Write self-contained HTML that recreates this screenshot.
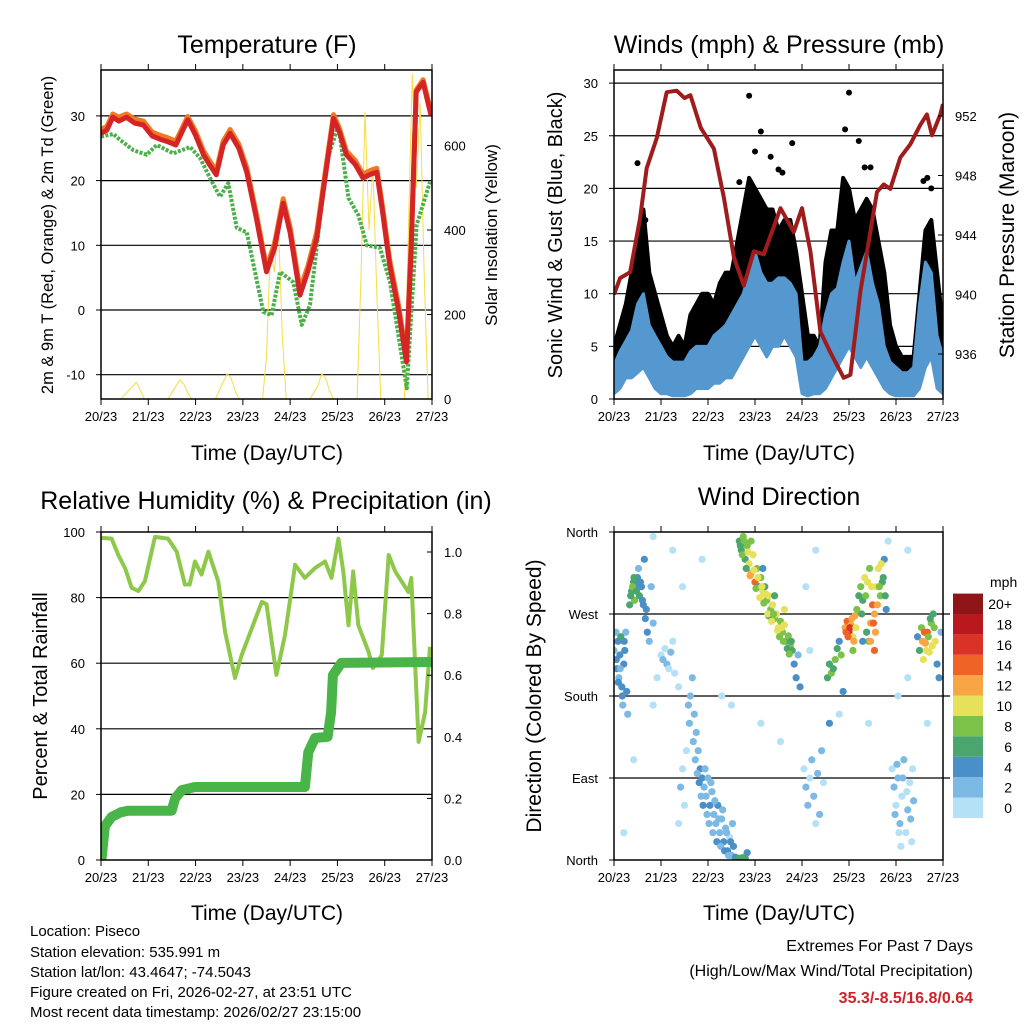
<!DOCTYPE html>
<html><head><meta charset="utf-8"><style>
body{margin:0;background:#fff}
svg{display:block;font-family:"Liberation Sans",Arial,sans-serif}
</style></head><body>
<svg id="c" width="1024" height="1024" viewBox="0 0 1024 1024" xmlns="http://www.w3.org/2000/svg">
<defs>
<clipPath id="cp1"><rect x="101" y="70" width="331" height="329"/></clipPath>
<clipPath id="cp2"><rect x="614" y="70" width="329" height="329"/></clipPath>
<clipPath id="cp3"><rect x="101" y="532" width="331" height="328"/></clipPath>
<clipPath id="cp4"><rect x="614" y="532" width="329" height="328"/></clipPath>
</defs>
<g font-size="25" text-anchor="middle" fill="#000">
<text x="267" y="53">Temperature (F)</text>
<text x="779" y="53">Winds (mph) &amp; Pressure (mb)</text>
<text x="266" y="509">Relative Humidity (%) &amp; Precipitation (in)</text>
<text x="779" y="505">Wind Direction</text>
</g>
<g font-size="21" text-anchor="middle">
<text x="267" y="460">Time (Day/UTC)</text>
<text x="779" y="460">Time (Day/UTC)</text>
<text x="267" y="920">Time (Day/UTC)</text>
<text x="779" y="920">Time (Day/UTC)</text>
<text transform="translate(53,235) rotate(-90)" font-size="16.5">2m &amp; 9m T (Red, Orange) &amp; 2m Td (Green)</text>
<text transform="translate(497,235) rotate(-90)" font-size="17">Solar Insolation (Yellow)</text>
<text transform="translate(562,235) rotate(-90)" font-size="20">Sonic Wind &amp; Gust (Blue, Black)</text>
<text transform="translate(1014,235) rotate(-90)" font-size="21">Station Pressure (Maroon)</text>
<text transform="translate(47,696) rotate(-90)" font-size="20">Percent &amp; Total Rainfall</text>
<text transform="translate(541,696) rotate(-90)" font-size="21">Direction (Colored By Speed)</text>
</g>
<g font-size="15">
<text x="30" y="936">Location: Piseco</text>
<text x="30" y="957">Station elevation: 535.991 m</text>
<text x="30" y="977">Station lat/lon: 43.4647; -74.5043</text>
<text x="30" y="997">Figure created on Fri, 2026-02-27, at 23:51 UTC</text>
<text x="30" y="1017">Most recent data timestamp: 2026/02/27 23:15:00</text>
</g>
<g font-size="16" text-anchor="end">
<text x="973" y="951">Extremes For Past 7 Days</text>
<text x="973" y="976">(High/Low/Max Wind/Total Precipitation)</text>
<text x="973" y="1003" fill="#d0222a" font-weight="bold">35.3/-8.5/16.8/0.64</text>
</g>
<g id="layer"></g>
</svg>
<script>
// ---- Temperature data ----
const tHours=[0,3,6,9,13,17,21.5,26,30,34,38,44,48,52,55,58.5,62,65.5,70,74,79,84,88,92.5,96,101,105,109.5,114,118,121,124.5,129,133,137,140,143,146.5,151,155,157.5,160,163.5,167.5];
const temp2m=[27.3,27.8,29.8,29.2,29.8,28.9,28.6,26.9,26.4,26.0,25.5,29.4,27.0,24,22.5,20.9,25.5,27.3,25.0,21.3,14.0,5.9,9.5,16.5,12.0,2.3,6.0,11.1,21.0,29.6,27.5,24,22.5,20.4,21.0,21.3,15.0,7,0,-8,10,33.7,35.2,30.1];
const temp9m=[27.9,28.4,30.3,29.8,30.3,29.5,29.2,27.5,27.0,26.6,26.1,29.9,27.6,24.6,23.1,21.5,26.1,27.9,25.6,22.0,14.7,6.6,10.2,17.2,12.8,3.2,6.8,12.0,21.7,30.2,28.1,24.6,23.1,21.0,21.6,21.9,15.8,7.8,0.8,-7.2,11,34.0,35.6,30.6];
const dHours=[0,6.3,9.6,16.4,23.2,28.3,36.7,45.2,50.3,55.3,60.4,64.6,68.9,74,82.4,86.6,90.9,97.6,101.9,106.1,114.5,120.5,125.6,130.6,134.9,141.6,146.7,155.2,160.2,167];
const dewpt=[26.8,27.2,26.3,24.7,24,25.5,24.2,25.2,23.5,20.4,17.5,19.6,12.7,12,-0.3,-0.8,5.9,4.3,-2.3,0.8,22.9,28.6,17.3,14.7,10,9.6,4.3,-12.1,13.1,19.8];
const solarHours=[0,2,4,6,8,10,12,14,16,18,20,22,24,26,28,30,32,34,36,38,40,42,44,46,48,50,52,54,56,58,60,62,64,66,68,70,72,74,76,78,80,82,84,86,88,90,92,94,96,98,100,102,104,106,108,110,112,114,116,118,120,122,124,126,128,130,132,134,136,138,140,142,144,146,148,150,152,154,156,158,160,162,164,166,168];
const solar=[0,0,0,0,0,0,10,20,30,40,20,0, 0,0,0,0,0,0,15,30,45,35,15,0, 0,0,0,0,0,0,20,40,60,50,20,0, 0,0,0,0,0,0,100,360,300,420,150,0, 0,0,0,0,0,0,15,30,60,50,20,0, 0,0,0,0,0,0,300,680,400,550,250,0, 0,0,0,0,0,0,400,770,500,700,300,0, 0];
const tempTicks=[30,20,10,0,-10];
const solarTicks=[0,200,400,600];
const dayLabels=["20/23","21/23","22/23","23/23","24/23","25/23","26/23","27/23"];
// ---- Winds ----
const wHours=[0,3,6,9,12,15,18,21,24,27,30,33,36,39,42,45,48,51,54,57,60,63,66,69,72,75,78,81,84,87,90,93,96,99,102,105,108,111,114,117,120,123,126,129,132,135,138,141,144,147,150,153,156,159,162,165,168];
const gustHi=[5,7,9,12,14,18,12,10,8,6,5,6,5,8,9,10,10,9,11,12,12,15,18,21,20,19,18,18,16,17,17,14,10,6,6,5,13,16,16,21,20,17,18,19,18,15,12,7,5,4,4,4,10,16,17,12,7];
const windHi=[3.2,4.5,5.5,6.5,9,10,7,6,5,4,3.5,3.5,3.5,4.5,5,5,5,6,6.5,7,8,9,10,12,14,12,11,11,11.5,11.5,11,10,3.5,3.5,4,5,8,10,10.5,13,15,11,12.5,14,11,9,5,3.5,3,2.5,2.5,3,9,13,12,6,4];
const windLo=[0.5,1,2,2,2.5,3,2,1,0.5,0.5,0.3,0.3,0.3,0.5,1,1,1,1.5,1.5,2,2,3,4,5,6,5,4,5,5,6,5,4,0.5,0.3,0.5,0.5,1,2,3,4,5,4,3,4,3,2,1,0.5,0.3,0.3,0.3,0.3,1,3,4,1,0.5];
const gustOutHours=[69,120,75,91,118,12,64,158,131,86,16,14,72,80,84,125,128,160,162];
const gustOutVals=[28.8,29.1,25.4,24.3,25.6,22.4,20.6,20.7,22,21.5,17,16,23.5,23,21.8,24.5,22,21,20];
const pHours=[0,3.1,8.2,13.3,16.7,21.8,26.9,32,36,39,44.3,51,56.1,61.2,66.3,71.4,76.5,85,91.8,96,100.3,105.4,110.5,117.3,120.7,125.8,134.3,137.7,141.1,146.2,151.3,156.4,159.8,162.4,166.6,168];
const pressure=[940.0,941.1,941.5,945.1,948.5,950.5,953.6,953.7,953.2,953.4,951.2,949.8,946.5,942.5,940.6,942.9,942.7,945.8,944.2,945.8,942.9,937.5,936.1,934.4,934.6,940.2,946.9,947.4,947.1,949.2,950.1,951.4,952.1,950.7,952.1,952.8];
const windTicks=[0,5,10,15,20,25,30];
const presTicks=[936,940,944,948,952];
// ---- RH / Precip ----
const rhHours=[0.3,5.4,8.8,12.2,15.6,19,22.3,24.9,27.4,34,38.4,42.6,45,47.7,51,54.5,59.5,63,68,71.4,76.6,81.6,84,89,93.4,98.5,103.5,108.6,113.7,117,120.5,123,125.6,128,130.6,135.8,138,142.5,146,149.3,156,157.5,161.2,164.5,167];
const rh=[98.2,98,93,89,83,82,85,92,98.5,98,94,84,84,91,87,94,85,69.5,55.5,62.5,70.7,78.7,78,56.4,68.6,90,86,89,91,86,98,88,71.6,88,71.6,63.4,58.5,62.5,93,88,81.7,86,36,45,65];
const prHours=[0.3,2,5.4,10,13.9,35.9,37.6,41,47.7,103.5,105.2,108.6,115,116.8,117.7,122,168];
const precip=[0.006,0.11,0.14,0.155,0.16,0.16,0.2,0.227,0.237,0.237,0.35,0.396,0.40,0.48,0.60,0.64,0.643];
const rhTicks=[0,20,40,60,80,100];
const prTicks=[0.0,0.2,0.4,0.6,0.8,1.0];
// ---- Wind direction ----
const dirHours=[0,1,1.5,2,2.5,3,4,4.5,5,6,6.5,7,3.5,5.5, 8,9,10,10.5,11,12,13,14,15,16,17,18,12.5,19,20,15.5, 24,25,26,27,28,29,30,31,22,33,35,20, 39,40,41,42,43,44,45,46,47,48,49,50,51,52,53,54,55,56,57,58,59,60,61,62,64,66,67,68, 64,65,66,67,68,69,70,71,72,73,74,75,76,77,78,79,80,81,82,83,84,85,86,87,88,89,90,91,87,82,70,76,79, 92,93,94,95, 97,98,99,100,101,102,103,104,105,106,107,98,103, 109,110,111,112,113,114,115,116,117,110, 118,119,120,121,122,123,124,125,126,127,128,129,130,131,132,133,134,135,136,137,138,139,127,133,122, 142,143,144,145,146,147,148,149,150,151,152,153,145,150, 155,156,157,158,159,160,161,162,163,164,165,166,167, 30,45,55,75,85,100,130,140,160,5,10,20,60,115,150,
38,38.5,40.5,41.5,42.5,43.5,44.5,45.5,46.5,47.5,48.5,49.5,50.5,51.5,52.5,53.5,54.5,55.5,56.5,57.5,58.5,59.5,60.5,63,65,35,37,36,34,33,
64.5,65.5,66.5,67.5,68.5,69.5,71.5,72.5,73.5,74.5,75.5,76.5,77.5,78.5,80.5,81.5,83.5,84.5,85.5,86.5,88.5,89.5,90.5,
118.5,119.5,120.5,121.5,122.5,123.5,126.5,128.5,129.5,130.5,131.5,132.5,133.5,134.5,135.5,136.5,137.5,138.5,131,
143.5,145.5,147.5,149.5,151.5,144.5,146.5,152.5,
157.5,158.5,159.5,160.5,161.5,162.5,163.5,
1.2,2.2,3.2,4.2,5.2,8.5,9.5,10.2,11.5,13.5,14.5,16.5];
const dirDeg=[230,250,210,240,200,225,190,170,215,250,185,160,245,230, 280,295,305,285,300,310,290,300,280,265,250,240,320,300,260,330, 225,220,232,215,210,228,240,205,200,190,300,355, 180,200,160,140,120,100,90,80,70,90,60,75,50,40,60,30,45,20,35,10,25,5,15,3,2,3,2,8, 350,340,355,330,345,325,315,335,305,320,300,310,295,300,285,290,275,280,265,270,255,262,250,258,240,246,235,230,275,290,350,320,268, 215,200,225,190, 100,80,60,90,110,70,40,95,50,120,85,300,340, 200,215,205,210,220,232,240,225,185,150, 255,262,250,258,245,268,275,290,300,285,310,250,240,260,280,270,300,320,290,305,330,275,240,230,230, 100,80,60,90,40,70,110,30,55,85,20,65,180,340, 245,230,255,220,238,250,228,260,270,240,215,200,250, 340,330,180,150,130,230,150,350,150,30,110,170,170,160,200,
170,150,130,110,95,85,70,60,100,50,40,85,30,65,20,45,15,55,10,30,5,20,40,1,2,100,120,60,80,40,
345,335,350,320,338,312,318,298,310,288,300,282,292,270,262,270,252,245,255,240,232,226,240,
250,245,255,265,240,255,270,290,305,320,300,260,250,280,300,325,310,290,240,
50,30,90,75,45,105,15,100,
240,250,230,245,265,235,255,
220,195,210,180,240,290,300,310,295,305,285,275];
const dirSpeed=[2,3,4,4,3,4,4,3,5,3,4,2,6,4, 6,7,6,8,5,4,6,4,5,4,4,3,3,2,2,4, 1,2,1,2,1,2,1,1,0,0,0,1, 2,3,3,2,3,4,4,3,2,3,4,2,3,2,4,2,3,4,2,4,1,2,5,4,7,8,6,4, 6,7,8,6,9,11,12,10,14,8,6,9,10,7,9,10,8,10,9,10,10,9,8,10,6,9,8,6,11,7,9,5,6, 4,4,3,4, 1,2,2,1,2,3,1,2,2,3,1,0,1, 6,7,8,7,8,6,4,8,4,4, 13,14,16,12,10,13,8,6,9,7,10,6,8,12,15,13,11,10,8,6,5,4,4,14,9, 1,2,1,3,2,1,3,1,2,1,0,2,1,0, 4,6,8,10,12,14,10,8,6,10,4,4,3, 0,1,1,0,1,1,1,1,0,0,1,0,1,1,0,
2,2,3,2,3,4,3,4,2,3,2,2,3,2,4,2,3,2,4,3,3,4,2,6,7,1,1,1,2,1,
7,8,9,7,10,12,11,9,10,11,10,9,10,11,10,9,10,8,10,9,7,8,6,
15,14,16,13,12,10,7,9,10,8,11,14,13,12,9,10,7,6,12,
2,1,2,1,2,3,1,1,
12,14,11,9,7,10,8,
4,4,3,4,5,7,8,6,7,5,4,4];
const speedLabels=["0","2","4","6","8","10","12","14","16","18","20+"];
const speedColors=["#b5e1f7","#7db9e5","#4a8fc7","#4aa56e","#7cc24a","#e6e05a","#f7a643","#f06326","#d93226","#b8181e","#8e1518"];
const dirTicks=[0,90,180,270,360];
const dirNames=["North","East","South","West","North"];

const NS="http://www.w3.org/2000/svg";
const layer=document.getElementById('layer');
function mk(tag,attrs,parent){const e=document.createElementNS(NS,tag);for(const k in attrs)e.setAttribute(k,attrs[k]);(parent||layer).appendChild(e);return e;}
function xScale(x0,x1){return h=>x0+h/168*(x1-x0);}
const x1s=xScale(101,432), x2s=xScale(614,943);
const yT=v=>310-v*6.47, yS=v=>399-v*0.4225;
const yW=v=>399-v*10.53, yP=v=>354-(v-936)*14.875;
const yRH=v=>860-v*3.28, yPr=v=>860-v*308;
const yD=v=>860-v/360*328;
function pts(xs,ys,fx,fy){return xs.map((h,i)=>fx(h).toFixed(1)+','+fy(ys[i]).toFixed(1)).join(' ');}

function gridH(x0,x1,y,name){const l=mk('line',{x1:x0,x2:x1,y1:y,y2:y,stroke:'#000','stroke-width':1.2});}
function xAxis(x0,x1,yb,yt,fx,name){
  dayLabels.forEach((lab,i)=>{const x=fx(i*24);
    mk('line',{x1:x,x2:x,y1:yb,y2:yb+6,stroke:'#000','stroke-width':1});
    mk('line',{x1:x,x2:x,y1:yt,y2:yt-6,stroke:'#000','stroke-width':1});
    const t=mk('text',{x:x,y:yb+22,'font-size':13,'text-anchor':'middle'});t.textContent=lab;
    
    });
}
function frame(x,y,w,h,name){const r=mk('rect',{x:x,y:y,width:w,height:h,fill:'none',stroke:'#000','stroke-width':1.5});}
function leftTicks(vals,fy,x0,labels,name){vals.forEach((v,i)=>{const y=fy(v);mk('line',{x1:x0-5,x2:x0,y1:y,y2:y,stroke:'#000'});const t=mk('text',{x:x0-16,y:y+5,'font-size':13,'text-anchor':'end'});t.textContent=labels?labels[i]:String(v);});}
function rightTicks(vals,fy,x0,labels,name){vals.forEach((v,i)=>{const y=fy(v);mk('line',{x1:x0-5,x2:x0,y1:y,y2:y,stroke:'#000'});const t=mk('text',{x:x0+12,y:y+5,'font-size':13,'text-anchor':'start'});t.textContent=labels?labels[i]:String(v);});}

// ===== Panel 1 =====
tempTicks.forEach(v=>gridH(101,432,yT(v),'temp-gridline'));
const g1=mk('g',{'clip-path':'url(#cp1)'});


let e=mk('polyline',{points:pts(solarHours,solar,x1s,yS),fill:'none',stroke:'#f5dd45','stroke-width':1},g1);

e=mk('polyline',{points:pts(dHours,dewpt,x1s,yT),fill:'none',stroke:'#4bb04a','stroke-width':4,'stroke-dasharray':'3 1.5','stroke-linejoin':'round'},g1);

e=mk('polyline',{points:pts(tHours,temp9m,x1s,yT),fill:'none',stroke:'#f07a24','stroke-width':5,'stroke-linejoin':'round'},g1);

e=mk('polyline',{points:pts(tHours,temp2m,x1s,yT),fill:'none',stroke:'#d42426','stroke-width':5,'stroke-linejoin':'round'},g1);

frame(101,70,331,329,'temperature-frame');
leftTicks(tempTicks,yT,101,null,'temp-tick-label');
rightTicks(solarTicks,yS,432,null,'solar-tick-label');
xAxis(101,432,399,70,x1s,'temp-x');

// ===== Panel 2 =====
windTicks.slice(1).forEach(v=>gridH(614,943,yW(v),'wind-gridline'));
const g2=mk('g',{'clip-path':'url(#cp2)'});


const gustPoly=pts(wHours,gustHi,x2s,yW)+' '+pts(wHours.slice().reverse(),windHi.slice().reverse(),x2s,yW);
e=mk('polygon',{points:gustPoly,fill:'#000',stroke:'#000','stroke-width':4,'stroke-linejoin':'round'},g2);

gustOutHours.forEach((h,i)=>{const c=mk('circle',{cx:x2s(h),cy:yW(gustOutVals[i]),r:3,fill:'#000'},g2);
  
  });
const windPoly=pts(wHours,windHi,x2s,yW)+' '+pts(wHours.slice().reverse(),windLo.slice().reverse(),x2s,yW);
e=mk('polygon',{points:windPoly,fill:'#5598d0',stroke:'#5598d0','stroke-width':3,'stroke-linejoin':'round'},g2);

e=mk('polyline',{points:pts(pHours,pressure,x2s,yP),fill:'none',stroke:'#a01c1c','stroke-width':4,'stroke-linejoin':'round'},g2);

frame(614,70,329,329,'winds-frame');
leftTicks(windTicks,yW,614,null,'wind-tick-label');
rightTicks(presTicks,yP,943,null,'pressure-tick-label');
xAxis(614,943,399,70,x2s,'wind-x');

// ===== Panel 3 =====
rhTicks.slice(1,5).forEach(v=>gridH(101,432,yRH(v),'rh-gridline'));
const g3=mk('g',{'clip-path':'url(#cp3)'});


e=mk('polyline',{points:pts(rhHours,rh,x1s,yRH),fill:'none',stroke:'#8dc84b','stroke-width':4,'stroke-linejoin':'round'},g3);

e=mk('polyline',{points:pts(prHours,precip,x1s,yPr),fill:'none',stroke:'#49b447','stroke-width':10,'stroke-linejoin':'round','stroke-linecap':'round'},g3);

frame(101,532,331,328,'humidity-frame');
leftTicks(rhTicks,yRH,101,null,'rh-tick-label');
rightTicks(prTicks,yPr,432,prTicks.map(v=>v.toFixed(1)),'precip-tick-label');
xAxis(101,432,860,532,x1s,'rh-x');

// ===== Panel 4 =====
dirTicks.slice(1,4).forEach(v=>gridH(614,950,yD(v),'dir-gridline'));
const g4=mk('g',{'clip-path':'url(#cp4)'});


dirHours.forEach((h,i)=>{const ci=Math.max(0,Math.min(10,Math.floor(dirSpeed[i]/2)));
  const c=mk('circle',{cx:x2s(h),cy:yD(dirDeg[i]),r:3.6,fill:speedColors[ci]},g4);
  
  });
frame(614,532,329,328,'direction-frame');
leftTicks(dirTicks,yD,614,dirNames,'dir-tick-label');
xAxis(614,943,860,532,x2s,'dir-x');

// colorbar
const cb=mk('g',{});


const tt=mk('text',{x:990,y:587,'font-size':14},cb);tt.textContent='mph';
speedColors.forEach((col,i)=>{const y=818-(i+1)*20.4;
  const r=mk('rect',{x:953,y:y,width:30,height:20.4,fill:col},cb);
  
  
  const t=mk('text',{x:1012,y:y+15.5,'font-size':14,'text-anchor':'end'},cb);t.textContent=speedLabels[i];
  
  });
</script>
</body></html>
